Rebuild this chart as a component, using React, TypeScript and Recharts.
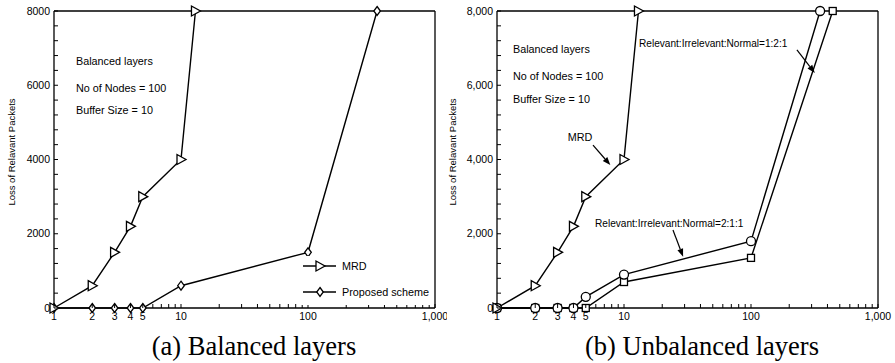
import React from 'react';
import { LineChart, Line, XAxis, YAxis, ReferenceLine } from 'recharts';

const FONT = '"Liberation Sans", Arial, Helvetica, sans-serif';
const SERIF = '"Liberation Serif", "Times New Roman", serif';

// axes
const xTicks = [1, 2, 3, 4, 5, 6, 7, 8, 9, 10, 20, 30, 40, 50, 60, 70, 80, 90, 100, 200, 300, 400, 500, 600, 700, 800, 900, 1000];
const xLabels = [1, 2, 3, 4, 5, 10, 100, 1000];
const yTicks = [0, 400, 800, 1200, 1600, 2000, 2400, 2800, 3200, 3600, 4000, 4400, 4800, 5200, 5600, 6000, 6400, 6800, 7200, 7600, 8000];
const yLabels = [0, 2000, 4000, 6000, 8000];

// series
const mrdX = [1, 2, 3, 4, 5, 10, 13];
const mrdY = [0, 600, 1500, 2200, 3000, 4000, 8000];
const proposedX = [1, 2, 3, 4, 5, 10, 100, 350];
const proposedY = [0, 0, 0, 0, 0, 600, 1500, 8000];
const ratio211X = [1, 2, 3, 4, 5, 10, 100, 350];
const ratio211Y = [0, 0, 0, 0, 300, 900, 1800, 8000];
const ratio121X = [1, 2, 3, 4, 5, 10, 100, 440];
const ratio121Y = [0, 0, 0, 0, 0, 700, 1350, 8000];

const legendNames = ['MRD', 'Proposed scheme'];

// annotation arrows in data units (panel b)
const mrdArrow = [{ x: 5.7, y: 4390 }, { x: 7.8, y: 3850 }];
const arrow121 = [{ x: 230, y: 6950 }, { x: 318, y: 6330 }];
const arrow211 = [{ x: 24.3, y: 2100 }, { x: 29.2, y: 1380 }];

const toPoints = (xs: number[], ys: number[]) => xs.map((x, i) => ({ x, y: ys[i] }));

const mrdData = toPoints(mrdX, mrdY);
const proposedData = toPoints(proposedX, proposedY);
const ratio211Data = toPoints(ratio211X, ratio211Y);
const ratio121Data = toPoints(ratio121X, ratio121Y);

type Kind = 'tri' | 'diamond' | 'circle' | 'square';

function Marker({ kind, cx, cy }: { kind: Kind; cx: number; cy: number }) {
  const common = { fill: '#fff', stroke: '#000', strokeWidth: 1.3 };
  if (kind === 'tri') {
    return <polygon {...common} points={`${cx - 4},${cy - 5} ${cx - 4},${cy + 5} ${cx + 5},${cy}`} />;
  }
  if (kind === 'diamond') {
    return <polygon {...common} points={`${cx},${cy - 4.5} ${cx + 3.3},${cy} ${cx},${cy + 4.5} ${cx - 3.3},${cy}`} />;
  }
  if (kind === 'circle') {
    return <circle {...common} cx={cx} cy={cy} r={4.5} />;
  }
  return <rect {...common} x={cx - 3.5} y={cy - 3.5} width={7} height={7} />;
}

const dotOf = (kind: Kind) => (p: any) => <Marker key={`${kind}-${p.index}`} kind={kind} cx={p.cx} cy={p.cy} />;

const fmtX = (v: number) => (v >= 1000 ? v.toLocaleString('en-US') : String(v));

const bottomTick = (p: any) => {
  const v = p.payload.value;
  return (
    <g>
      <line x1={p.x} y1={p.y} x2={p.x} y2={p.y - 4} stroke="#000" strokeWidth={1} />
      {xLabels.includes(v) && (
        <text x={p.x} y={p.y + 11.5} textAnchor="middle" fontSize={10.5} fontFamily={FONT} fill="#000">
          {fmtX(v)}
        </text>
      )}
    </g>
  );
};

const topTick = (p: any) => <line x1={p.x} y1={p.y} x2={p.x} y2={p.y + 4} stroke="#000" strokeWidth={1} />;

const leftTick = (fmt: (v: number) => string) => (p: any) => {
  const v = p.payload.value;
  return (
    <g>
      <line x1={p.x} y1={p.y} x2={p.x + 4} y2={p.y} stroke="#000" strokeWidth={1} />
      {yLabels.includes(v) && (
        <text x={p.x - 4} y={p.y + 3.7} textAnchor="end" fontSize={10.5} fontFamily={FONT} fill="#000">
          {fmt(v)}
        </text>
      )}
    </g>
  );
};

const rightTick = (p: any) => <line x1={p.x} y1={p.y} x2={p.x - 4} y2={p.y} stroke="#000" strokeWidth={1} />;

const arrowShape = (p: any) => {
  const { x1, y1, x2, y2 } = p;
  const a = Math.atan2(y2 - y1, x2 - x1);
  const len = 8;
  const w = 3;
  const bx = x2 - len * Math.cos(a);
  const by = y2 - len * Math.sin(a);
  const px = -Math.sin(a) * w;
  const py = Math.cos(a) * w;
  return (
    <g>
      <line x1={x1} y1={y1} x2={bx} y2={by} stroke="#000" strokeWidth={1.2} />
      <polygon points={`${x2},${y2} ${bx + px},${by + py} ${bx - px},${by - py}`} fill="#000" />
    </g>
  );
};

const axisLine = { stroke: '#000', strokeWidth: 1.3 };

const lineProps = {
  xAxisId: 'b',
  yAxisId: 'l',
  dataKey: 'y',
  type: 'linear' as const,
  stroke: '#000',
  strokeWidth: 1.4,
  activeDot: false,
  isAnimationActive: false,
};

export default function App() {
  const t = (x: number, y: number, s: string, size = 10.8, anchor: any = 'start') => (
    <text x={x} y={y} fontSize={size} fontFamily={FONT} textAnchor={anchor} fill="#000">{s}</text>
  );
  return (
    <div style={{ position: 'absolute', left: 0, top: 0, width: 895, height: 363, background: '#fff' }}>
      <div style={{ position: 'absolute', left: 0, top: 0 }}>
        <LineChart width={447} height={330} margin={{ top: 10, right: 11, left: 0, bottom: 0 }}>
          <XAxis xAxisId="b" dataKey="x" type="number" scale="log" domain={[1, 1000]} ticks={xTicks} interval={0}
            tick={bottomTick} tickLine={false} tickSize={0} tickMargin={0} axisLine={axisLine} height={22} />
          <XAxis xAxisId="t" orientation="top" dataKey="x" type="number" scale="log" domain={[1, 1000]} ticks={xTicks} interval={0}
            tick={topTick} tickLine={false} tickSize={0} tickMargin={0} axisLine={axisLine} height={1} />
          <YAxis yAxisId="l" type="number" domain={[0, 8000]} ticks={yTicks} interval={0}
            tick={leftTick((v) => String(v))} tickLine={false} tickSize={0} tickMargin={0} axisLine={axisLine} width={54} />
          <YAxis yAxisId="r" orientation="right" type="number" domain={[0, 8000]} ticks={yTicks} interval={0}
            tick={rightTick} tickLine={false} tickSize={0} tickMargin={0} axisLine={axisLine} width={1} />
          <Line {...lineProps} data={proposedData} dot={dotOf('diamond')} name="Proposed scheme" />
          <Line {...lineProps} data={mrdData} dot={dotOf('tri')} name="MRD" />
        </LineChart>
      </div>
      <div style={{ position: 'absolute', left: 447, top: 0 }}>
        <LineChart width={448} height={330} margin={{ top: 10, right: 16, left: 0, bottom: 0 }}>
          <XAxis xAxisId="b" dataKey="x" type="number" scale="log" domain={[1, 1000]} ticks={xTicks} interval={0}
            tick={bottomTick} tickLine={false} tickSize={0} tickMargin={0} axisLine={axisLine} height={22} />
          <XAxis xAxisId="t" orientation="top" dataKey="x" type="number" scale="log" domain={[1, 1000]} ticks={xTicks} interval={0}
            tick={topTick} tickLine={false} tickSize={0} tickMargin={0} axisLine={axisLine} height={1} />
          <YAxis yAxisId="l" type="number" domain={[0, 8000]} ticks={yTicks} interval={0}
            tick={leftTick((v) => v.toLocaleString('en-US'))} tickLine={false} tickSize={0} tickMargin={0} axisLine={axisLine} width={50} />
          <YAxis yAxisId="r" orientation="right" type="number" domain={[0, 8000]} ticks={yTicks} interval={0}
            tick={rightTick} tickLine={false} tickSize={0} tickMargin={0} axisLine={axisLine} width={1} />
          <Line {...lineProps} data={ratio121Data} dot={dotOf('square')} name="Relevant:Irrelevant:Normal=1:2:1" />
          <Line {...lineProps} data={ratio211Data} dot={dotOf('circle')} name="Relevant:Irrelevant:Normal=2:1:1" />
          <Line {...lineProps} data={mrdData} dot={dotOf('tri')} name="MRD" />
          <ReferenceLine xAxisId="b" yAxisId="l" segment={mrdArrow} ifOverflow="visible" shape={arrowShape} />
          <ReferenceLine xAxisId="b" yAxisId="l" segment={arrow121} ifOverflow="visible" shape={arrowShape} />
          <ReferenceLine xAxisId="b" yAxisId="l" segment={arrow211} ifOverflow="visible" shape={arrowShape} />
        </LineChart>
      </div>
      <svg width={895} height={363} style={{ position: 'absolute', left: 0, top: 0, pointerEvents: 'none' }}>
        {t(76, 65, 'Balanced layers')}
        {t(76, 92, 'No of Nodes = 100')}
        {t(76, 113.5, 'Buffer Size = 10')}
        <text transform="translate(14.5,152) rotate(-90)" textAnchor="middle" fontSize={9.5} fontFamily={FONT}>Loss of Relavant Packets</text>
        <rect x={299} y={256} width={135} height={49} fill="#fff" />
        <line x1={303} y1={266} x2={336} y2={266} stroke="#000" strokeWidth={1.4} />
        <Marker kind="tri" cx={320} cy={266} />
        {t(342, 270, legendNames[0])}
        <line x1={303} y1={292} x2={336} y2={292} stroke="#000" strokeWidth={1.4} />
        <Marker kind="diamond" cx={320} cy={292} />
        {t(342, 296, legendNames[1])}
        {t(513, 53, 'Balanced layers')}
        {t(513, 80, 'No of Nodes = 100')}
        {t(513, 102.5, 'Buffer Size = 10')}
        {t(580, 141, 'MRD', 10.8, 'middle')}
        {t(639, 47, 'Relevant:Irrelevant:Normal=1:2:1', 10.1)}
        {t(595, 226.5, 'Relevant:Irrelevant:Normal=2:1:1', 10.1)}
        <text transform="translate(456,152) rotate(-90)" textAnchor="middle" fontSize={9.5} fontFamily={FONT}>Loss of Relavant Packets</text>
        <text x={254} y={355} textAnchor="middle" fontSize={26.5} fontFamily={SERIF}>(a) Balanced layers</text>
        <text x={702} y={355} textAnchor="middle" fontSize={26.5} fontFamily={SERIF}>(b) Unbalanced layers</text>
      </svg>
    </div>
  );
}
